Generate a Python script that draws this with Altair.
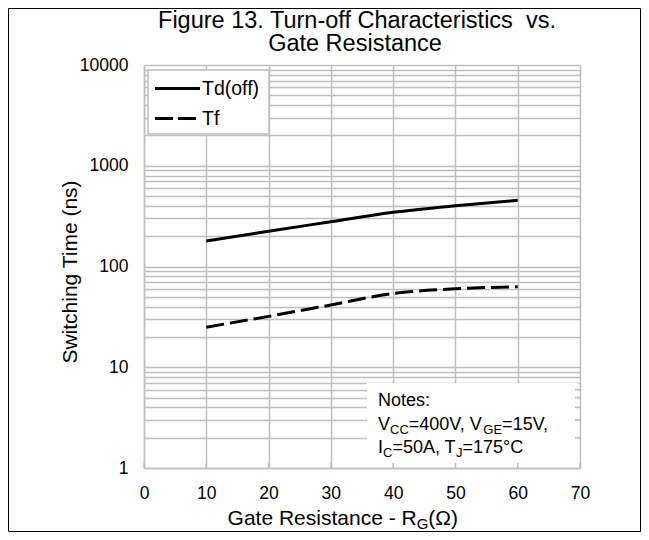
import altair as alt
import pandas as pd

# ---- data ----
rg = [10, 20, 30, 40, 50, 60]
td_off = [179, 224, 278, 345, 401, 454]
tf = [25, 32, 41.5, 54, 60, 63]

x_ticks = [0, 10, 20, 30, 40, 50, 60, 70]
y_labels = [1, 10, 100, 1000, 10000]
y_grid = [m * 10 ** k for k in range(4) for m in range(1, 10)] + [10000]
box_ticks_y = [2, 3, 4, 5, 6]

title_lines = ["Figure 13. Turn-off Characteristics \u00a0vs.", "Gate Resistance"]
y_title = "Switching Time (ns)"
x_title_parts = [("Gate Resistance - R", False), ("G", True), ("(Ω)", False)]
legend_names = ["Td(off)", "Tf"]
notes_head = "Notes:"
notes_line1 = [("V", False), ("CC", True), ("=400V, V", False), ("GE", True), ("=15V,", False)]
notes_line2 = [("I", False), ("C", True), ("=50A, T", False), ("J", True), ("=175°C", False)]

# ---- style ----
FONT = "Liberation Sans"
GRID = "#BFBFBF"
W, H = 436, 403

AW = {' ': 278, '(': 333, ')': 333, ',': 278, '-': 333, '.': 278, ':': 278, '=': 584,
      'A': 667, 'C': 722, 'E': 667, 'G': 778, 'I': 278, 'J': 500, 'N': 722, 'R': 722,
      'T': 611, 'V': 667, 'a': 556, 'c': 500, 'e': 556, 'n': 556, 'o': 556, 's': 500,
      't': 278, 'i': 222, 'Ω': 768, '°': 400}


def tw(s, size):
    return sum(AW.get(ch, 556) for ch in s) * size / 1000.0


one = pd.DataFrame({"k": [0]})


def text_mark(s, x, y, size, align="left", baseline="alphabetic"):
    return alt.Chart(one).mark_text(align=align, baseline=baseline, font=FONT,
                                    fontSize=size, color="black").encode(
        x=alt.value(x), y=alt.value(y), text=alt.value(s))


def rich_text(parts, x0, y0, size, sub_size, sub_dy=4, anchor="left"):
    total = sum(tw(p, sub_size if s else size) for p, s in parts)
    x = x0 - total / 2 if anchor == "center" else x0
    layers = []
    for p, s in parts:
        fs = sub_size if s else size
        layers.append(text_mark(p, x, y0 + (sub_dy if s else 0), fs))
        x += tw(p, fs)
    return layers


df = pd.DataFrame({"rg": rg * 2, "t": td_off + tf,
                   "series": ["Td(off)"] * len(rg) + ["Tf"] * len(rg)})

label_expr = "(" + " || ".join(f"datum.value == {v}" for v in y_labels) + ") ? format(datum.value, 'd') : ''"

x_enc = alt.X("rg:Q", scale=alt.Scale(domain=[0, 70], nice=False),
              axis=alt.Axis(values=x_ticks, title=None, grid=True, gridColor=GRID, gridWidth=1.5,
                            domainColor=GRID, domainWidth=1.5, ticks=False, labelPadding=16,
                            labelFontSize=17.5, labelFont=FONT, labelColor="black",
                            labelFlush=False, labelOverlap=False))
y_enc = alt.Y("t:Q", scale=alt.Scale(type="log", domain=[1, 10000], nice=False),
              axis=alt.Axis(values=y_grid, labelExpr=label_expr, title=y_title, grid=True,
                            gridColor=GRID, gridWidth=1.5, domainColor=GRID, domainWidth=1.5,
                            ticks=False, labelPadding=16, labelFontSize=17.5, labelFont=FONT,
                            labelColor="black", labelFlush=False, labelOverlap=False,
                            titleFont=FONT, titleFontSize=21, titleFontWeight="normal",
                            titleColor="black", titleX=-74, titleY=206.5, titleAngle=270,
                            titleAlign="center", titleBaseline="middle"))

base = alt.Chart(df).encode(x=x_enc, y=y_enc)

td_line = base.transform_filter(alt.datum.series == "Td(off)").mark_line(
    color="black", strokeWidth=3, interpolate="monotone")
tf_line = base.transform_filter(alt.datum.series == "Tf").mark_line(
    color="black", strokeWidth=3, strokeDash=[18, 6], interpolate="monotone")

# notes box and small inner ticks visible over it
notes_box = alt.Chart(one).mark_rect(fill="white").encode(
    x=alt.value(223), x2=alt.value(W - 1.5), y=alt.value(318), y2=alt.value(H - 1))
bt = alt.Chart(pd.DataFrame({"rg": x_ticks})).mark_rule(color=GRID, strokeWidth=1.5).encode(
    x="rg:Q", y=alt.value(H), y2=alt.value(H - 5))
rt = alt.Chart(pd.DataFrame({"t": box_ticks_y})).mark_rule(color=GRID, strokeWidth=1.5).encode(
    y="t:Q", x=alt.value(W), x2=alt.value(W - 5))

# legend
leg_box = alt.Chart(one).mark_rect(fill="white", stroke=GRID, strokeWidth=1.5).encode(
    x=alt.value(4), x2=alt.value(125), y=alt.value(5), y2=alt.value(69))
leg_l1 = alt.Chart(one).mark_rule(color="black", strokeWidth=3).encode(
    x=alt.value(11), x2=alt.value(56), y=alt.value(23.5))
leg_l2 = alt.Chart(one).mark_rule(color="black", strokeWidth=3, strokeDash=[18, 5]).encode(
    x=alt.value(11), x2=alt.value(56), y=alt.value(53.5))
leg_t1 = text_mark(legend_names[0], 58, 24, 19.5, baseline="middle")
leg_t2 = text_mark(legend_names[1], 58, 54, 19.5, baseline="middle")

notes_layers = [text_mark(notes_head, 234, 341, 18)] + \
    rich_text(notes_line1, 234, 365, 18, 13) + rich_text(notes_line2, 234, 388, 18, 13)

xtitle_layers = rich_text(x_title_parts, 199, 460, 21, 15, sub_dy=4, anchor="center")

title_layers = [text_mark(title_lines[0], 213, -37, 23.5, align="center"),
                text_mark(title_lines[1], 211, -14, 23.5, align="center")]

border = alt.Chart(one).mark_rect(fill=None, stroke="black", strokeWidth=1).encode(
    x=alt.value(-135.5), x2=alt.value(496.5), y=alt.value(-56.5), y2=alt.value(466.5))

chart = alt.layer(
    td_line, tf_line, notes_box, bt, rt, leg_box, leg_l1, leg_l2, leg_t1, leg_t2,
    *notes_layers, *xtitle_layers, *title_layers, border
).properties(
    width=W, height=H,
    padding={"left": 136, "top": 57, "right": 61, "bottom": 64},
    autosize=alt.AutoSizeParams(type="none"),
).configure_view(stroke=GRID, strokeWidth=1.5).configure(background="white")

chart.save("out.html", embed_options={"renderer": "svg", "actions": False})
